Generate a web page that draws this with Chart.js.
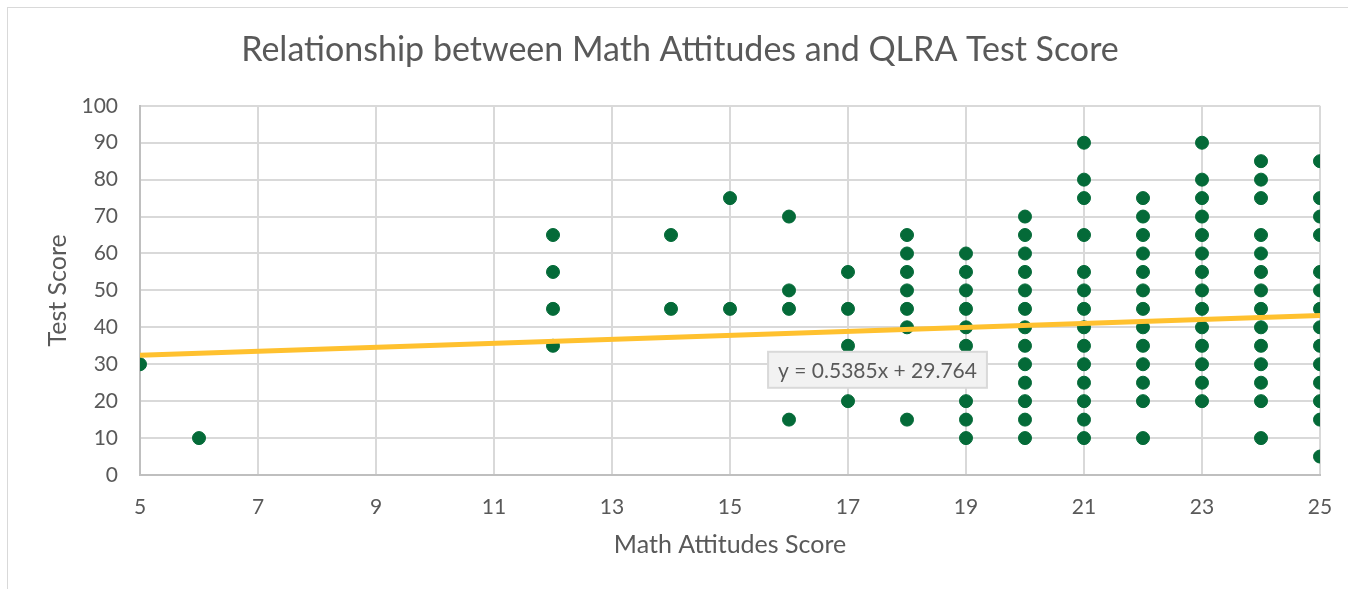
<!DOCTYPE html>
<html>
<head>
<meta charset="utf-8">
<script src="https://cdn.jsdelivr.net/npm/chart.js@4.4.0/dist/chart.umd.min.js"></script>
<style>
  html, body { margin: 0; padding: 0; background: #fff; overflow: hidden; }
  #wrap { position: relative; width: 1348px; height: 589px; }
  #frame { position: absolute; left: 7px; top: 7px; width: 1360px; height: 600px; border: 1px solid #d9d9d9; }
  #chart { position: absolute; left: 0; top: 0; }
</style>
</head>
<body>
<div id="wrap">
  <div id="frame"></div>
  <canvas id="chart" width="1348" height="589"></canvas>
</div>
<script>
// math attitude score (x) and the test scores seen at each one
const attitudeScores = [5, 6, 12, 14, 15, 16, 17, 18, 19, 20, 21, 22, 23, 24, 25];
const testScores = [
    [30],
    [10],
    [65, 55, 45, 35],
    [65, 45],
    [75, 45],
    [70, 50, 45, 15],
    [55, 45, 35, 20],
    [65, 60, 55, 50, 45, 40, 15],
    [60, 55, 50, 45, 40, 35, 20, 15, 10],
    [70, 65, 60, 55, 50, 45, 40, 35, 30, 25, 20, 15, 10],
    [90, 80, 75, 65, 55, 50, 45, 40, 35, 30, 25, 20, 15, 10],
    [75, 70, 65, 60, 55, 50, 45, 40, 35, 30, 25, 20, 10],
    [90, 80, 75, 70, 65, 60, 55, 50, 45, 40, 35, 30, 25, 20],
    [85, 80, 75, 65, 60, 55, 50, 45, 40, 35, 30, 25, 20, 10],
    [85, 75, 70, 65, 55, 50, 45, 40, 35, 30, 25, 20, 15, 5]
];

// linear trendline end points
const trendX = [5, 25];
const trendY = [32.46, 43.23];
const trendText = 'y = 0.5385x + 29.764';

const xTicks = [5, 7, 9, 11, 13, 15, 17, 19, 21, 23, 25];
const yTicks = [0, 10, 20, 30, 40, 50, 60, 70, 80, 90, 100];

const FONT = "Lato, 'Liberation Sans', sans-serif";
const GREY = '#595959';

const scatterPoints = [];
attitudeScores.forEach((a, i) => {
    testScores[i].forEach(s => scatterPoints.push({ x: a, y: s }));
});
const trendPoints = trendX.map((x, i) => ({ x: x, y: trendY[i] }));

// draws the trendline equation box like Excel does
const equationLabel = {
    id: 'equationLabel',
    afterDatasetsDraw(chart, args, opts) {
        const ctx = chart.ctx;
        const cx = chart.scales.x.getPixelForValue(opts.x);
        const cy = chart.scales.y.getPixelForValue(opts.y);
        ctx.save();
        ctx.font = opts.font;
        const w = ctx.measureText(opts.text).width + 20;
        const h = 36;
        ctx.fillStyle = '#f2f2f2';
        ctx.strokeStyle = '#d9d9d9';
        ctx.lineWidth = 2;
        ctx.fillRect(cx - w / 2, cy - h / 2, w, h);
        ctx.strokeRect(cx - w / 2, cy - h / 2, w, h);
        ctx.fillStyle = GREY;
        ctx.textAlign = 'center';
        ctx.textBaseline = 'middle';
        ctx.fillText(opts.text, cx, cy + 1);
        ctx.restore();
    }
};

new Chart(document.getElementById('chart'), {
    type: 'scatter',
    data: {
        datasets: [
            {
                type: 'line',
                label: 'Linear trend',
                data: trendPoints,
                borderColor: '#ffc12f',
                borderWidth: 5,
                pointRadius: 0,
                fill: false
            },
            {
                label: 'Test Score',
                data: scatterPoints,
                backgroundColor: '#046a38',
                borderColor: '#046a38',
                pointRadius: 6.5,
                pointHoverRadius: 6.5
            }
        ]
    },
    options: {
        responsive: false,
        animation: false,
        layout: { padding: { left: 40, right: 28, top: 0, bottom: 29 } },
        plugins: {
            legend: { display: false },
            tooltip: { enabled: false },
            title: {
                display: true,
                text: 'Relationship between Math Attitudes and QLRA Test Score',
                color: GREY,
                font: { family: FONT, size: 34, weight: 'normal' },
                padding: { top: 30, bottom: 35 }
            },
            equationLabel: { x: 17.5, y: 28.5, text: trendText, font: "21px " + FONT }
        },
        scales: {
            x: {
                type: 'linear',
                min: 5,
                max: 25,
                afterBuildTicks: s => { s.ticks = xTicks.map(v => ({ value: v })); },
                afterFit: s => { s.height = 85; s.paddingRight = 0; },
                grid: { color: '#d9d9d9', lineWidth: 2, drawTicks: false },
                border: { color: '#bfbfbf', width: 2 },
                ticks: { color: GREY, padding: 20, font: { family: FONT, size: 21 } },
                title: {
                    display: true,
                    text: 'Math Attitudes Score',
                    color: GREY,
                    padding: 0,
                    font: { family: FONT, size: 25 }
                }
            },
            y: {
                min: 0,
                max: 100,
                afterBuildTicks: s => { s.ticks = yTicks.map(v => ({ value: v })); },
                afterFit: s => { s.width = 100; },
                grid: { color: '#d9d9d9', lineWidth: 2, drawTicks: false },
                border: { color: '#bfbfbf', width: 2 },
                ticks: { color: GREY, padding: 22, font: { family: FONT, size: 21 } },
                title: {
                    display: true,
                    text: 'Test Score',
                    color: GREY,
                    padding: { top: 3, bottom: 0 },
                    font: { family: FONT, size: 25 }
                }
            }
        }
    },
    plugins: [equationLabel]
});
</script>
</body>
</html>
